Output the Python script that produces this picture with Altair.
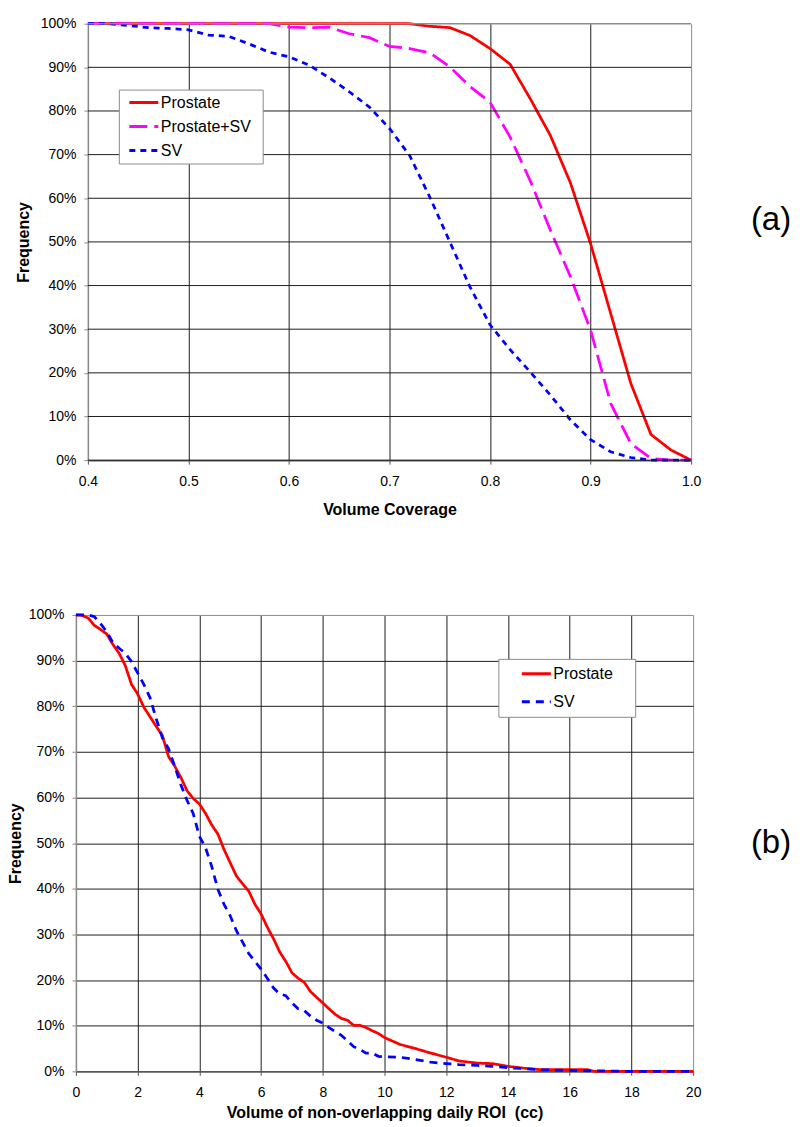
import altair as alt
import pandas as pd

FONT = "Liberation Sans"

# ---------------- panel (a): Volume Coverage ----------------
cov_x = [0.40, 0.42, 0.44, 0.46, 0.48, 0.50, 0.52, 0.54, 0.56, 0.58,
         0.60, 0.62, 0.64, 0.66, 0.68, 0.70, 0.72, 0.74, 0.76, 0.78,
         0.80, 0.82, 0.84, 0.86, 0.88, 0.90, 0.92, 0.94, 0.96, 0.98, 1.00]
cov_prostate = [100, 100, 100, 100, 100, 100, 100, 100, 100, 100,
                100, 100, 100, 100, 100, 100, 100, 99.4, 99.1, 97.3,
                94.3, 90.7, 82.8, 74.4, 63.5, 49.6, 33.6, 17.6, 5.9, 2.3, 0.0]
cov_prostate_sv = [100, 100, 100, 100, 100, 100, 100, 100, 100, 100,
                   99.2, 99.1, 99.2, 97.7, 96.8, 94.8, 94.3, 93.3, 90.1, 85.6,
                   82.0, 74.0, 64.0, 52.7, 42.0, 29.8, 13.0, 3.8, 0.4, 0.0, 0.0]
cov_sv = [100, 100, 99.6, 99.1, 98.9, 98.6, 97.4, 97.1, 95.4, 93.5,
          92.4, 90.5, 87.6, 84.4, 80.9, 76.0, 69.8, 60.3, 50.0, 39.7,
          31.0, 25.3, 20.2, 14.9, 9.2, 4.7, 1.9, 0.6, 0.0, 0.0, 0.0]

# ---------------- panel (b): non-overlapping ROI volume ----------------
roi_x_prostate = [0, 0.2, 0.4, 0.6, 0.8, 1.0, 1.2, 1.4, 1.6, 1.8,
                  2.0, 2.2, 2.4, 2.6, 2.8, 3.0, 3.2, 3.4, 3.6, 3.8,
                  4.0, 4.2, 4.4, 4.6, 4.8, 5.0, 5.2, 5.4, 5.6, 5.8,
                  6.0, 6.2, 6.4, 6.6, 6.8, 7.0, 7.2, 7.4, 7.6, 7.8,
                  8.0, 8.2, 8.4, 8.6, 8.8, 9.0, 9.2, 9.4, 9.6, 9.8,
                  10.0, 10.5, 11.0, 11.5, 12.0, 12.4, 13.0, 13.5, 14.0, 14.5,
                  15.0, 16.0, 16.6, 16.8, 20.0]
roi_prostate = [100, 99.9, 99.3, 97.7, 96.8, 95.8, 93.5, 91.6, 88.9, 84.8,
                82.7, 79.8, 77.7, 75.6, 73.6, 69.0, 66.9, 64.4, 61.5, 59.8,
                58.6, 56.5, 54.0, 52.0, 48.6, 45.7, 42.8, 41.1, 39.5, 36.6,
                34.5, 31.6, 29.1, 26.2, 24.1, 21.6, 20.4, 19.5, 17.5, 16.2,
                15.0, 13.7, 12.5, 11.6, 11.2, 10.1, 10.1, 9.6, 8.9, 8.3,
                7.4, 5.9, 5.0, 4.0, 3.1, 2.3, 1.8, 1.7, 1.1, 0.7,
                0.4, 0.4, 0.35, 0.0, 0.0]
roi_x_sv = [0, 0.2, 0.4, 0.6, 0.8, 1.0, 1.2, 1.4, 1.6, 1.8,
            2.0, 2.2, 2.4, 2.6, 2.8, 3.0, 3.2, 3.4, 3.6, 3.8,
            4.0, 4.2, 4.4, 4.6, 4.8, 5.0, 5.2, 5.4, 5.6, 5.8,
            6.0, 6.2, 6.4, 6.6, 6.8, 7.0, 7.2, 7.4, 7.6, 7.8,
            8.0, 8.2, 8.4, 8.6, 8.8, 9.0, 9.2, 9.4, 9.6, 9.8,
            10.0, 10.5, 11.0, 11.5, 12.0, 12.4, 13.0, 13.5, 14.0, 14.5,
            15.0, 16.0, 17.0, 18.0, 20.0]
roi_sv = [100, 100, 100, 99.6, 98.1, 96.3, 93.9, 92.7, 91.6, 89.8,
          87.3, 84.8, 81.9, 77.3, 73.1, 70.7, 66.9, 62.8, 59.4, 56.5,
          51.5, 49.0, 44.9, 39.9, 36.6, 34.1, 30.8, 28.3, 25.8, 24.1,
          22.4, 20.4, 18.3, 17.0, 16.6, 15.0, 13.7, 13.3, 12.1, 11.2,
          10.6, 9.6, 8.7, 7.9, 6.7, 5.4, 4.8, 4.0, 4.0, 3.3,
          3.2, 3.1, 2.6, 2.0, 1.7, 1.5, 1.3, 1.1, 0.8, 0.6,
          0.35, 0.2, 0.1, 0.0, 0.0]

# ---------------- labels, ticks, styles ----------------
series_a = ["Prostate", "Prostate+SV", "SV"]
series_b = ["Prostate", "SV"]
colors_a = ["#FF0000", "#FF00FF", "#0000FF"]
colors_b = ["#FF0000", "#0000FF"]
dashes_a = [[1, 0], [18, 7], [6, 5]]
dashes_b = [[1, 0], [8, 6]]
pct_ticks = [0, 10, 20, 30, 40, 50, 60, 70, 80, 90, 100]
cov_ticks = [0.4, 0.5, 0.6, 0.7, 0.8, 0.9, 1.0]
roi_ticks = [0, 2, 4, 6, 8, 10, 12, 14, 16, 18, 20]
panel_labels = ["(a)", "(b)"]

GRID = "#1e1e1e"
FRAME = "#8c8c8c"
NB = "\u00a0"

df_a = pd.concat([
    pd.DataFrame({"x": cov_x, "y": cov_prostate, "series": "Prostate"}),
    pd.DataFrame({"x": cov_x, "y": cov_prostate_sv, "series": "Prostate+SV"}),
    pd.DataFrame({"x": cov_x, "y": cov_sv, "series": "SV"}),
], ignore_index=True)

df_b = pd.concat([
    pd.DataFrame({"x": roi_x_prostate, "y": roi_prostate, "series": "Prostate"}),
    pd.DataFrame({"x": roi_x_sv, "y": roi_sv, "series": "SV"}),
], ignore_index=True)

ticks_df = pd.DataFrame({"y": pct_ticks})

# ---------------- panel (a) ----------------
legend_a = alt.Legend(
    title=".", titleOrient="right", titleColor="white", titleFontSize=16, titlePadding=2,
    orient="none", legendX=43, legendY=66,
    strokeColor=FRAME, fillColor="white", padding=5, cornerRadius=0,
    symbolType="stroke", symbolSize=841, symbolStrokeWidth=3, symbolOffset=4,
    labelFont=FONT, labelFontSize=16, labelColor="black", labelOffset=1,
    rowPadding=8, clipHeight=16, labelLimit=300,
)

x_a = alt.X(
    "x:Q",
    scale=alt.Scale(domain=[0.4, 1.0], range=[12, 616], nice=False, zero=False),
    axis=alt.Axis(
        values=cov_ticks, format=".1f", title="Volume Coverage", labelFlush=False,
        grid=True, gridWidth=1,
        gridColor={"condition": {"test": "datum.value < 0.45 || datum.value > 0.95", "value": FRAME}, "value": GRID},
        tickSize=4, tickColor="#555", domainColor="#555", domainWidth=1.5,
        labelPadding=10, titlePadding=13,
    ),
)
y_a = alt.Y(
    "y:Q",
    scale=alt.Scale(domain=[0, 100], nice=False),
    axis=alt.Axis(
        values=pct_ticks, labelExpr="datum.value + '%'", title="Frequency",
        grid=False, offset=-12, tickSize=4, tickColor=FRAME, domainColor=FRAME,
        domainWidth=1.5, labelPadding=8, titlePadding=9,
    ),
)

lines_a = alt.Chart(df_a).mark_line(strokeWidth=2.75).encode(
    x=x_a, y=y_a,
    color=alt.Color("series:N", scale=alt.Scale(domain=series_a, range=colors_a), legend=legend_a),
    strokeDash=alt.StrokeDash("series:N", scale=alt.Scale(domain=series_a, range=dashes_a), legend=legend_a),
)
hgrid_a = alt.Chart(ticks_df).transform_filter("datum.y < 100").mark_rule(
    color=GRID, strokeWidth=1
).encode(x=alt.datum(0.4), x2=alt.datum(1.0), y="y:Q")
top_a = alt.Chart(ticks_df).transform_filter("datum.y >= 100").mark_rule(
    color=FRAME, strokeWidth=1.5
).encode(x=alt.datum(0.4), x2=alt.datum(1.0), y="y:Q")
label_a = alt.Chart(pd.DataFrame({"t": panel_labels[:1]})).mark_text(
    font=FONT, fontSize=33, align="center", baseline="middle", color="black"
).encode(text="t:N", x=alt.value(696), y=alt.value(197))

panel_a = alt.layer(lines_a, hgrid_a, top_a, label_a).properties(width=618, height=437)

# ---------------- panel (b) ----------------
legend_b = alt.Legend(
    title=".", titleOrient="right", titleColor="white", titleFontSize=16, titlePadding=10,
    orient="none", legendX=423, legendY=44,
    strokeColor=FRAME, fillColor="white", padding=7, cornerRadius=0,
    symbolType="stroke", symbolSize=841, symbolStrokeWidth=3, symbolOffset=15,
    labelFont=FONT, labelFontSize=16, labelColor="black", labelOffset=1,
    rowPadding=12, clipHeight=16, labelLimit=300,
)

x_b = alt.X(
    "x:Q",
    scale=alt.Scale(domain=[0, 20], nice=False),
    axis=alt.Axis(
        values=roi_ticks, format="d", title="Volume of non-overlapping daily ROI" + NB + " (cc)",
        labelFlush=False, grid=True, gridWidth=1,
        gridColor={"condition": {"test": "datum.value < 1 || datum.value > 19", "value": FRAME}, "value": GRID},
        tickSize=4, tickColor="#555", domainColor="#555", domainWidth=1.5,
        labelPadding=10, titlePadding=5,
    ),
)
y_b = alt.Y(
    "y:Q",
    scale=alt.Scale(domain=[0, 100], nice=False),
    axis=alt.Axis(
        values=pct_ticks, labelExpr="datum.value + '%'", title="Frequency",
        grid=True, gridWidth=1,
        gridColor={"condition": {"test": "datum.value > 99", "value": FRAME}, "value": GRID},
        tickSize=4, tickColor=FRAME, domainColor=FRAME, domainWidth=1.5,
        labelPadding=8, titlePadding=5,
    ),
)
lines_b = alt.Chart(df_b).mark_line(strokeWidth=2.75).encode(
    x=x_b, y=y_b,
    color=alt.Color("series:N", scale=alt.Scale(domain=series_b, range=colors_b), legend=legend_b),
    strokeDash=alt.StrokeDash("series:N", scale=alt.Scale(domain=series_b, range=dashes_b), legend=legend_b),
)
label_b = alt.Chart(pd.DataFrame({"t": panel_labels[1:]})).mark_text(
    font=FONT, fontSize=33, align="center", baseline="middle", color="black"
).encode(text="t:N", x=alt.value(696), y=alt.value(228))

panel_b = alt.layer(lines_b, label_b).properties(width=618, height=457)

chart = alt.vconcat(panel_a, panel_b, spacing=89).resolve_scale(
    x="independent", y="independent", color="independent", strokeDash="independent"
).properties(
    padding={"left": -2, "top": 7, "right": 0, "bottom": 0},
    background="white",
).configure_view(stroke="transparent").configure_axis(
    labelFont=FONT, labelFontSize=14, labelColor="black",
    titleFont=FONT, titleFontSize=16, titleFontWeight="bold", titleColor="black",
)

chart.save("out.html", embed_options={"renderer": "svg", "actions": False})
